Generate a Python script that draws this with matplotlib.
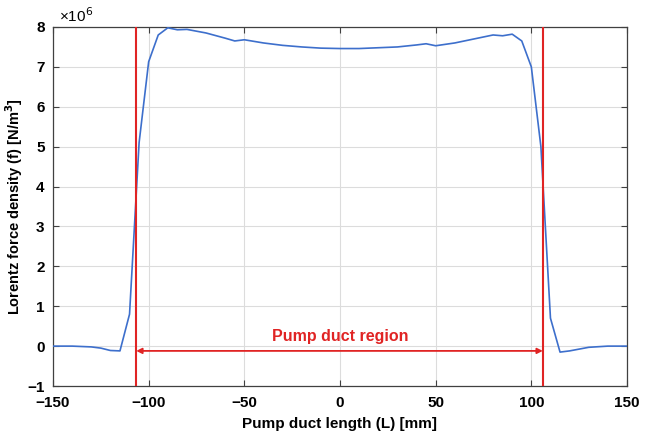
import matplotlib
matplotlib.use("Agg")
import matplotlib.pyplot as plt
import numpy as np

plt.rcParams['font.family'] = ['Liberation Sans', 'DejaVu Sans']

# Data (x in mm, force density in units of 1e6 N/m^3)
x_mm = [-150, -140, -130, -125, -120, -115, -110, -105, -100, -95, -90, -85, -80,
        -70, -60, -55, -50, -40, -30, -20, -10, 0, 10, 20, 30, 40, 45, 50, 60,
        70, 80, 85, 90, 95, 100, 105, 110, 115, 120, 130, 140, 150]
force_e6 = [0.0, 0.0, -0.02, -0.05, -0.11, -0.12, 0.8, 5.1, 7.13, 7.8, 7.98, 7.93, 7.94,
            7.85, 7.72, 7.65, 7.68, 7.6, 7.54, 7.5, 7.47, 7.46, 7.46, 7.48, 7.5, 7.55, 7.58,
            7.53, 7.6, 7.7, 7.8, 7.78, 7.82, 7.65, 7.0, 5.0, 0.7, -0.15, -0.12, -0.03, 0.0, 0.0]
duct_edges = [-106.5, 106.0]
arrow_y = -0.12
region_label = "Pump duct region"
x_ticks = [-150, -100, -50, 0, 50, 100, 150]
y_ticks = [-1, 0, 1, 2, 3, 4, 5, 6, 7, 8]

fig = plt.figure(figsize=(6.51, 4.32), dpi=100)
ax = fig.add_axes([53/651, 1-386/432, (627-53)/651, (386-27)/432])

ax.plot(x_mm, force_e6, color='#3d6fcc', lw=1.2, zorder=3)
for xe in duct_edges:
    ax.axvline(xe, color='#e02424', lw=1.5, zorder=4)
ax.annotate('', xy=(duct_edges[0], arrow_y), xytext=(duct_edges[1], arrow_y),
            arrowprops=dict(arrowstyle='<|-|>', color='#e02424', lw=1.3,
                            mutation_scale=8, shrinkA=0, shrinkB=0), zorder=4)
ax.text(0, 0.05, region_label, color='#e02424', fontsize=11.5, fontweight='bold',
        ha='center', va='bottom')

ax.set_xlim(-150, 150)
ax.set_ylim(-1, 8)
ax.set_xticks(x_ticks)
ax.set_yticks(y_ticks)
ax.set_xticklabels([str(t).replace('-', '\u2212') for t in x_ticks], fontweight='bold', fontsize=11)
ax.set_yticklabels([str(t).replace('-', '\u2212') for t in y_ticks], fontweight='bold', fontsize=11)
ax.grid(True, color='#dcdcdc', lw=0.8, zorder=0)
ax.tick_params(direction='in', top=True, right=True, length=4, color='#404040')
ax.tick_params(axis='x', pad=7)
ax.tick_params(axis='y', pad=6)
for s in ax.spines.values():
    s.set_color('#404040')
    s.set_linewidth(0.9)

ax.set_xlabel('Pump duct length (L) [mm]', fontsize=11, fontweight='bold', labelpad=5)
ax.set_ylabel('Lorentz force density (f) [N/m$\\mathbf{^3}$]', fontsize=10.5, fontweight='bold', labelpad=2)
ax.text(0.01, 1.005, '\u00d710$^6$', transform=ax.transAxes, fontsize=11, ha='left', va='bottom')

fig.savefig('out.png', dpi=100)
